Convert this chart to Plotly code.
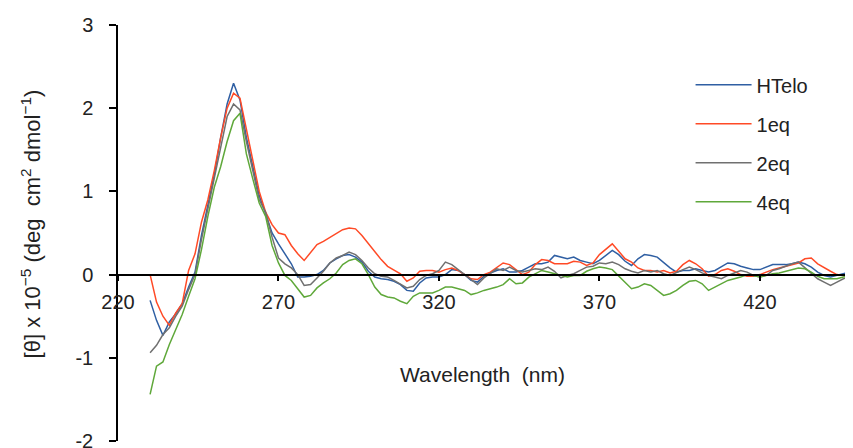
import plotly.graph_objects as go

wavelength = list(range(230, 450, 2))

htelo = [-0.31, -0.55, -0.73, -0.57, -0.47, -0.35, -0.15, 0.03, 0.47, 0.85,
         1.2, 1.65, 2.05, 2.3, 2.1, 1.65, 1.3, 0.95, 0.73, 0.5,
         0.37, 0.25, 0.13, -0.03, -0.03, -0.02, 0.0, 0.05, 0.14, 0.19,
         0.23, 0.24, 0.21, 0.15, 0.04, -0.03, -0.05, -0.06, -0.08, -0.12,
         -0.19, -0.2, -0.1, -0.04, -0.03, -0.03, 0.0, 0.06, 0.05, 0.0,
         -0.07, -0.09, -0.02, 0.02, 0.05, 0.07, 0.03, 0.03, 0.05, 0.09,
         0.13, 0.13, 0.15, 0.23, 0.21, 0.19, 0.21, 0.17, 0.15, 0.13,
         0.17, 0.23, 0.29, 0.24, 0.16, 0.11, 0.19, 0.24, 0.23, 0.21,
         0.14, 0.08, 0.03, 0.05, 0.05, 0.07, 0.05, 0.03, 0.05, 0.09,
         0.14, 0.13, 0.1, 0.08, 0.06, 0.06, 0.09, 0.12, 0.12, 0.12,
         0.13, 0.15, 0.13, 0.09, 0.03, -0.01, -0.03, -0.01, 0.01, 0.03]

eq1 = [0.0, -0.33, -0.5, -0.61, -0.46, -0.35, 0.05, 0.25, 0.63, 0.9,
       1.25, 1.65, 2.0, 2.18, 2.12, 1.75, 1.4, 1.0, 0.75, 0.6,
       0.5, 0.48, 0.35, 0.25, 0.17, 0.26, 0.36, 0.4, 0.45, 0.5,
       0.54, 0.56, 0.55, 0.47, 0.37, 0.27, 0.18, 0.1, 0.05, 0.01,
       -0.08, -0.04, 0.04, 0.05, 0.05, 0.03, 0.06, 0.08, 0.05, 0.0,
       -0.05, -0.06, 0.0, 0.03, 0.09, 0.14, 0.12, 0.06, 0.0, 0.03,
       0.12, 0.18, 0.17, 0.13, 0.13, 0.13, 0.16, 0.15, 0.11, 0.14,
       0.24, 0.31, 0.37, 0.28, 0.19, 0.15, 0.08, 0.05, 0.05, 0.03,
       0.05, 0.02, 0.04, 0.12, 0.17, 0.13, 0.07, -0.02, 0.0, 0.05,
       0.07, 0.04, 0.0, -0.02, -0.02, 0.0, 0.03, 0.06, 0.08, 0.1,
       0.12, 0.14, 0.19, 0.2, 0.13, 0.08, 0.04, 0.0, -0.01, -0.03]

eq2 = [-0.94, -0.85, -0.72, -0.64, -0.5, -0.38, -0.18, 0.0, 0.42, 0.8,
       1.15, 1.55, 1.9, 2.05, 1.98, 1.6, 1.25, 0.9, 0.75, 0.45,
       0.2, 0.13, 0.08, 0.0, -0.13, -0.12, -0.04, 0.04, 0.14, 0.2,
       0.23, 0.27, 0.24, 0.17, 0.08, 0.01, -0.02, -0.03, -0.07, -0.11,
       -0.16, -0.14, -0.06, -0.01, 0.01, 0.05, 0.15, 0.12, 0.06, -0.01,
       -0.06, -0.12, -0.04, 0.01, 0.07, 0.05, 0.09, 0.05, 0.03, 0.05,
       0.07, 0.06, 0.09, 0.04, -0.04, -0.01, 0.01, 0.05, 0.09, 0.1,
       0.14, 0.13, 0.15, 0.12, 0.07, 0.04, 0.02, 0.05, 0.03, 0.05,
       0.01, -0.01, 0.03, 0.06, 0.09, 0.06, 0.02, -0.01, -0.03, -0.05,
       -0.01, 0.02, 0.05, 0.03, -0.01, -0.03, -0.01, 0.05, 0.07, 0.1,
       0.13, 0.15, 0.08, 0.01, -0.05, -0.09, -0.13, -0.09, -0.05, -0.03]

eq4 = [-1.44, -1.1, -1.05, -0.84, -0.66, -0.48, -0.26, -0.05, 0.3, 0.7,
       1.05, 1.3, 1.6, 1.85, 1.94, 1.45, 1.15, 0.86, 0.7, 0.35,
       0.14, -0.01, -0.07, -0.17, -0.27, -0.25, -0.16, -0.1, -0.05, 0.02,
       0.12, 0.17, 0.19, 0.13, 0.0, -0.15, -0.24, -0.27, -0.28, -0.32,
       -0.35, -0.26, -0.22, -0.22, -0.22, -0.19, -0.15, -0.15, -0.17, -0.19,
       -0.24, -0.22, -0.19, -0.17, -0.15, -0.12, -0.05, -0.11, -0.1, -0.03,
       0.01, 0.05, 0.03, 0.01, -0.01, -0.03, -0.01, -0.01, 0.04, 0.07,
       0.09, 0.08, 0.06, -0.02, -0.1, -0.17, -0.15, -0.11, -0.13, -0.19,
       -0.25, -0.23, -0.19, -0.13, -0.08, -0.07, -0.11, -0.19, -0.15, -0.1,
       -0.07, -0.05, -0.03, 0.0, -0.01, -0.03, -0.01, 0.01, 0.02, 0.04,
       0.06, 0.08, 0.07, 0.03, -0.02, -0.05, -0.05, -0.05, -0.03, -0.01]

series_names = ["HTelo", "1eq", "2eq", "4eq"]
series_values = [htelo, eq1, eq2, eq4]
series_colors = ["#2F5FA3", "#FF4A26", "#707070", "#5FA83A"]

x_ticks = [220, 270, 320, 370, 420]
y_ticks = [-2, -1, 0, 1, 2, 3]
y_tick_labels = ["-2", "-1", "0", "1", "2", "3"]

FONT = "Liberation Sans, Arial, sans-serif"
TXT = "#222222"

fig = go.Figure()
for name, vals, col in zip(series_names, series_values, series_colors):
    fig.add_trace(go.Scatter(
        x=wavelength, y=vals, mode="lines", name=name, legendgroup=name,
        line=dict(color=col, width=1.5),
    ))

# page body has an 8px default margin, so the figure is sized to fit the window
fig.update_layout(
    width=845, height=440,
    margin=dict(l=110, r=0, t=17, b=7, autoexpand=False),
    paper_bgcolor="white", plot_bgcolor="white",
    font=dict(family=FONT, size=20, color=TXT),
    showlegend=True,
    legend=dict(
        x=0.779, y=0.903, xanchor="left", yanchor="top",
        bgcolor="rgba(0,0,0,0)", borderwidth=0,
        font=dict(family=FONT, size=20, color=TXT),
        tracegroupgap=10, itemwidth=56,
    ),
    xaxis=dict(
        range=[220, 449], tickvals=x_ticks, ticktext=[str(t) for t in x_ticks],
        anchor="free", position=0.4, automargin=False,
        showline=True, linecolor="black", linewidth=1.5,
        ticks="outside", ticklen=6, tickcolor="black", tickwidth=1.5,
        showgrid=False, zeroline=False, ticklabelstandoff=4,
        ticklabeloverflow="allow",
        tickfont=dict(family=FONT, size=20, color=TXT),
    ),
    yaxis=dict(
        range=[-2.0, 3.0], tickvals=y_ticks, ticktext=y_tick_labels,
        automargin=False,
        showline=True, linecolor="black", linewidth=1.5,
        ticks="outside", ticklen=7, tickcolor="black", tickwidth=1.5,
        showgrid=False, zeroline=False, ticklabelstandoff=12,
        ticklabeloverflow="allow",
        tickfont=dict(family=FONT, size=20, color=TXT),
    ),
    annotations=[
        dict(text="Wavelength\u00a0 (nm)", xref="paper", yref="paper",
             x=0.496, y=0.159, xanchor="center", yanchor="middle",
             showarrow=False, font=dict(family=FONT, size=21, color=TXT)),
        dict(text="[θ] x 10<sup>−5</sup> (deg\u00a0 cm<sup>2</sup>\u00a0dmol<sup>−1</sup>)",
             xref="paper", yref="paper", x=-0.119, y=0.522,
             xanchor="center", yanchor="middle", textangle=-90,
             showarrow=False, font=dict(family=FONT, size=22, color=TXT)),
    ],
)

fig.write_html("out.html")
